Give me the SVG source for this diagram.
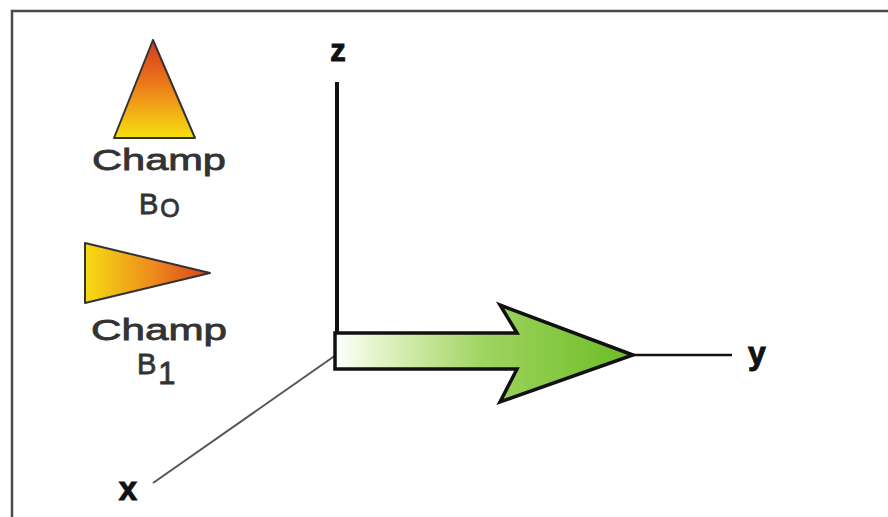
<svg xmlns="http://www.w3.org/2000/svg" width="888" height="517" viewBox="0 0 888 517">
<defs>
<linearGradient id="gB0" x1="0" y1="0" x2="0" y2="1">
<stop offset="0" stop-color="#d4361c"/>
<stop offset="0.45" stop-color="#ec7a1a"/>
<stop offset="1" stop-color="#f8e010"/>
</linearGradient>
<linearGradient id="gB1" x1="0" y1="0" x2="1" y2="0">
<stop offset="0" stop-color="#f5dc12"/>
<stop offset="0.55" stop-color="#ee8a1c"/>
<stop offset="1" stop-color="#d8401c"/>
</linearGradient>
<linearGradient id="gArrow" x1="335" y1="0" x2="633" y2="0" gradientUnits="userSpaceOnUse">
<stop offset="0" stop-color="#ffffff"/>
<stop offset="0.15" stop-color="#e2f3c6"/>
<stop offset="0.5" stop-color="#9fd460"/>
<stop offset="1" stop-color="#6cbc24"/>
</linearGradient>
<style>
.lbl{font-family:"Liberation Sans",Arial,sans-serif;fill:#333;stroke:#333;stroke-width:0.8;}
.ax{font-family:"Liberation Sans",Arial,sans-serif;font-weight:bold;fill:#111;stroke:#111;stroke-width:1;}
.tri{stroke:#333;stroke-width:2;stroke-linejoin:round;}
</style>
</defs>
<rect x="0" y="0" width="888" height="517" fill="#ffffff"/>
<rect id="frame" x="12" y="11" width="890" height="530" fill="none" stroke="#4a4a4a" stroke-width="2.5"/>
<g id="champB0">
<polygon class="tri" points="153,40 114,138 195,138" fill="url(#gB0)"/>
<text class="lbl" x="159" y="170" font-size="30" text-anchor="middle" textLength="134" lengthAdjust="spacingAndGlyphs">Champ</text>
<text class="lbl" x="139" y="214" font-size="29">B<tspan font-size="25" dy="3" dx="2">O</tspan></text>
</g>
<g id="champB1">
<polygon class="tri" points="85,243 85,303 210,273" fill="url(#gB1)"/>
<text class="lbl" x="159" y="340" font-size="30" text-anchor="middle" textLength="136" lengthAdjust="spacingAndGlyphs">Champ</text>
<text class="lbl" x="137" y="374" font-size="29">B<tspan font-size="31" dy="10" dx="2">1</tspan></text>
</g>
<g id="connectors">
<line x1="337" y1="82" x2="337" y2="335" stroke="#111" stroke-width="4"/>
<line x1="633" y1="355" x2="732" y2="355" stroke="#111" stroke-width="2.5"/>
<line x1="336" y1="355" x2="153" y2="483" stroke="#555" stroke-width="2"/>
</g>
<g id="arrow">
<polygon points="335,333 517,333 500,305 633,355 500,402 517,369 335,369" fill="url(#gArrow)" stroke="#111" stroke-width="3.5" stroke-linejoin="miter"/>
</g>
<g id="labels">
<text class="ax" x="338" y="61" font-size="31" text-anchor="middle">z</text>
<text class="ax" x="757" y="364" font-size="32" text-anchor="middle">y</text>
<text class="ax" x="128" y="500" font-size="33" text-anchor="middle">x</text>
</g>
</svg>
